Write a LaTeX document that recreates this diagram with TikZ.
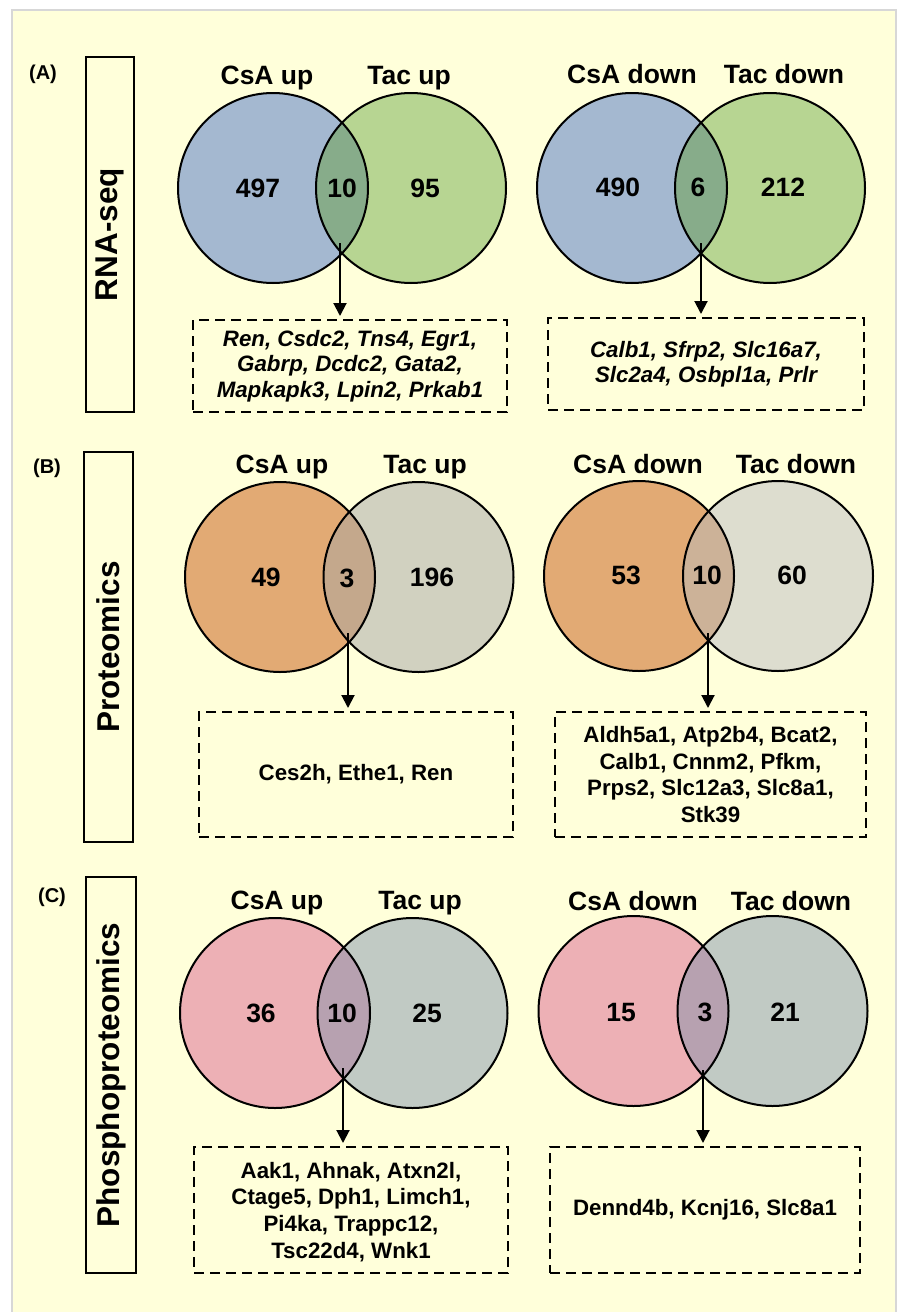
\documentclass[tikz,border=0pt]{standalone}
\usepackage{fontspec}
\setmainfont{Liberation Sans}
\usetikzlibrary{arrows.meta}
\definecolor{bgy}{RGB}{255,255,218}
\definecolor{frameg}{RGB}{215,215,215}
\definecolor{blueA}{RGB}{164,184,208}
\definecolor{greenA}{RGB}{183,213,146}
\definecolor{lensA}{RGB}{135,172,138}
\definecolor{orangeB}{RGB}{226,170,116}
\definecolor{grayB}{RGB}{209,209,192}
\definecolor{grayBb}{RGB}{221,221,207}
\definecolor{lensB}{RGB}{196,168,140}
\definecolor{lensBb}{RGB}{204,178,152}
\definecolor{pinkC}{RGB}{237,176,181}
\definecolor{grayC}{RGB}{193,202,196}
\definecolor{lensC}{RGB}{183,161,176}
\tikzset{
  circ/.style={circle, minimum size=190pt, inner sep=0pt, draw=black, line width=2pt},
  lbl/.style={font=\bfseries\fontsize{26.5}{28}\selectfont, anchor=base, inner sep=0pt},
  num/.style={font=\bfseries\fontsize{26.5}{28}\selectfont, inner sep=0pt},
  panel/.style={font=\bfseries\fontsize{20}{22}\selectfont, inner sep=0pt},
  sidebox/.style={draw=black, line width=2pt, inner sep=0pt},
  sidetxt/.style={font=\bfseries\fontsize{31.5}{34}\selectfont, rotate=90, inner sep=0pt},
  genebox/.style={draw=black, line width=2pt, dash pattern=on 10pt off 6pt, inner sep=0pt, align=center},
  genetxt/.style={font=\bfseries\fontsize{22.3}{26.8}\selectfont},
  geneit/.style={font=\bfseries\itshape\fontsize{22.3}{25.5}\selectfont},
  arr/.style={-{Triangle[length=13pt,width=13pt]}, line width=2pt}
}
\begin{document}
\begin{tikzpicture}[x=1pt,y=-1pt]
\useasboundingbox (0,0) rectangle (899,1312);
\fill[white] (0,0) rectangle (899,1312);
\fill[bgy] (12,10) rectangle (896,1312);
\draw[frameg, line width=2.5pt] (12,1320) -- (12,10) -- (896,10) -- (896,1320);

% ---------- Panel A ----------
\node[panel] (pA) at (43,74) {(A)};
\node[sidebox, minimum width=48pt, minimum height=355pt] (sA) at (110,234.5) {};
\node[sidetxt] (sAt) at (sA.center) {RNA-seq};

% A left venn
\fill[blueA] (273,188) circle[radius=95pt];
\fill[greenA] (411,188) circle[radius=95pt];
\begin{scope}\clip (273,188) circle[radius=95pt];
\fill[lensA] (411,188) circle[radius=95pt];\end{scope}
\node[circ] (a1l) at (273,188) {};
\node[circ] (a1r) at (411,188) {};
\node[lbl] (a1lt) at (267,84) {CsA up};
\node[lbl] (a1rt) at (409,84) {Tac up};
\node[num] (a1n1) at (258,188) {497};
\node[num] (a1n2) at (342,188) {10};
\node[num] (a1n3) at (425,188) {95};
\node[genebox, minimum width=314pt, minimum height=92pt] (a1b) at (350,366) {};
\node[geneit, align=center] (a1bt) at (a1b.center) {Ren, Csdc2, Tns4, Egr1,\\Gabrp, Dcdc2, Gata2,\\Mapkapk3, Lpin2, Prkab1};
\coordinate (a1s) at (340,243);
\draw[arr] (a1s) -- ([yshift=3pt]a1s |- a1b.north);

% A right venn
\fill[blueA] (632,188) circle[radius=95pt];
\fill[greenA] (770,188) circle[radius=95pt];
\begin{scope}\clip (632,188) circle[radius=95pt];
\fill[lensA] (770,188) circle[radius=95pt];\end{scope}
\node[circ] (a2l) at (632,188) {};
\node[circ] (a2r) at (770,188) {};
\node[lbl] (a2lt) at (632,83) {CsA down};
\node[lbl] (a2rt) at (784,83) {Tac down};
\node[num] (a2n1) at (618,187) {490};
\node[num] (a2n2) at (698,187) {6};
\node[num] (a2n3) at (783,187) {212};
\node[genebox, minimum width=316pt, minimum height=92pt] (a2b) at (706,364) {};
\node[geneit, align=center] (a2bt) at (a2b.center) {Calb1, Sfrp2, Slc16a7,\\Slc2a4, Osbpl1a, Prlr};
\coordinate (a2s) at (701,243);
\draw[arr] (a2s) -- ([yshift=3pt]a2s |- a2b.north);

% ---------- Panel B ----------
\node[panel] (pB) at (47,468) {(B)};
\node[sidebox, minimum width=49pt, minimum height=390pt] (sB) at (108.5,647) {};
\node[sidetxt] (sBt) at (sB.center) {Proteomics};

\fill[orangeB] (280,577) circle[radius=95pt];
\fill[grayB] (418.5,577) circle[radius=95pt];
\begin{scope}\clip (280,577) circle[radius=95pt];
\fill[lensB] (418.5,577) circle[radius=95pt];\end{scope}
\node[circ] (b1l) at (280,577) {};
\node[circ] (b1r) at (418.5,577) {};
\node[lbl] (b1lt) at (282,473) {CsA up};
\node[lbl] (b1rt) at (425,473) {Tac up};
\node[num] (b1n1) at (266,577) {49};
\node[num] (b1n2) at (347,578) {3};
\node[num] (b1n3) at (432,577) {196};
\node[genebox, minimum width=314pt, minimum height=125pt] (b1b) at (356,774.5) {};
\node[genetxt, align=center] (b1bt) at (b1b.center) {Ces2h, Ethe1, Ren};
\coordinate (b1s) at (348,633);
\draw[arr] (b1s) -- ([yshift=3pt]b1s |- b1b.north);

\fill[orangeB] (639,576) circle[radius=95pt];
\fill[grayBb] (778,576) circle[radius=95pt];
\begin{scope}\clip (639,576) circle[radius=95pt];
\fill[lensBb] (778,576) circle[radius=95pt];\end{scope}
\node[circ] (b2l) at (639,576) {};
\node[circ] (b2r) at (778,576) {};
\node[lbl] (b2lt) at (638,473) {CsA down};
\node[lbl] (b2rt) at (796,473) {Tac down};
\node[num] (b2n1) at (626,575) {53};
\node[num] (b2n2) at (707,575) {10};
\node[num] (b2n3) at (792,575) {60};
\node[genebox, minimum width=311pt, minimum height=125pt] (b2b) at (710.5,774.5) {};
\node[genetxt, align=center] (b2bt) at (b2b.center) {Aldh5a1, Atp2b4, Bcat2,\\Calb1, Cnnm2, Pfkm,\\Prps2, Slc12a3, Slc8a1,\\Stk39};
\coordinate (b2s) at (708,633);
\draw[arr] (b2s) -- ([yshift=3pt]b2s |- b2b.north);

% ---------- Panel C ----------
\node[panel] (pC) at (52,897) {(C)};
\node[sidebox, minimum width=50pt, minimum height=396pt] (sC) at (111,1075) {};
\node[sidetxt] (sCt) at (sC.center) {Phosphoproteomics};

\fill[pinkC] (275,1013) circle[radius=95pt];
\fill[grayC] (412.5,1013) circle[radius=95pt];
\begin{scope}\clip (275,1013) circle[radius=95pt];
\fill[lensC] (412.5,1013) circle[radius=95pt];\end{scope}
\node[circ] (c1l) at (275,1013) {};
\node[circ] (c1r) at (412.5,1013) {};
\node[lbl] (c1lt) at (277,909) {CsA up};
\node[lbl] (c1rt) at (420,909) {Tac up};
\node[num] (c1n1) at (261,1013) {36};
\node[num] (c1n2) at (342,1013) {10};
\node[num] (c1n3) at (427,1013) {25};
\node[genebox, minimum width=314pt, minimum height=126pt] (c1b) at (351,1210) {};
\node[genetxt, align=center] (c1bt) at (351,1212) {Aak1, Ahnak, Atxn2l,\\Ctage5, Dph1, Limch1,\\Pi4ka, Trappc12,\\Tsc22d4, Wnk1};
\coordinate (c1s) at (343,1068);
\draw[arr] (c1s) -- ([yshift=3pt]c1s |- c1b.north);

\fill[pinkC] (633.5,1011) circle[radius=95pt];
\fill[grayC] (772.5,1011) circle[radius=95pt];
\begin{scope}\clip (633.5,1011) circle[radius=95pt];
\fill[lensC] (772.5,1011) circle[radius=95pt];\end{scope}
\node[circ] (c2l) at (633.5,1011) {};
\node[circ] (c2r) at (772.5,1011) {};
\node[lbl] (c2lt) at (633,910) {CsA down};
\node[lbl] (c2rt) at (791,910) {Tac down};
\node[num] (c2n1) at (621,1012) {15};
\node[num] (c2n2) at (705,1012) {3};
\node[num] (c2n3) at (785,1012) {21};
\node[genebox, minimum width=310pt, minimum height=126pt] (c2b) at (705,1210) {};
\node[genetxt, align=center] (c2bt) at (c2b.center) {Dennd4b, Kcnj16, Slc8a1};
\coordinate (c2s) at (703,1070);
\draw[arr] (c2s) -- ([yshift=3pt]c2s |- c2b.north);
\end{tikzpicture}
\end{document}
